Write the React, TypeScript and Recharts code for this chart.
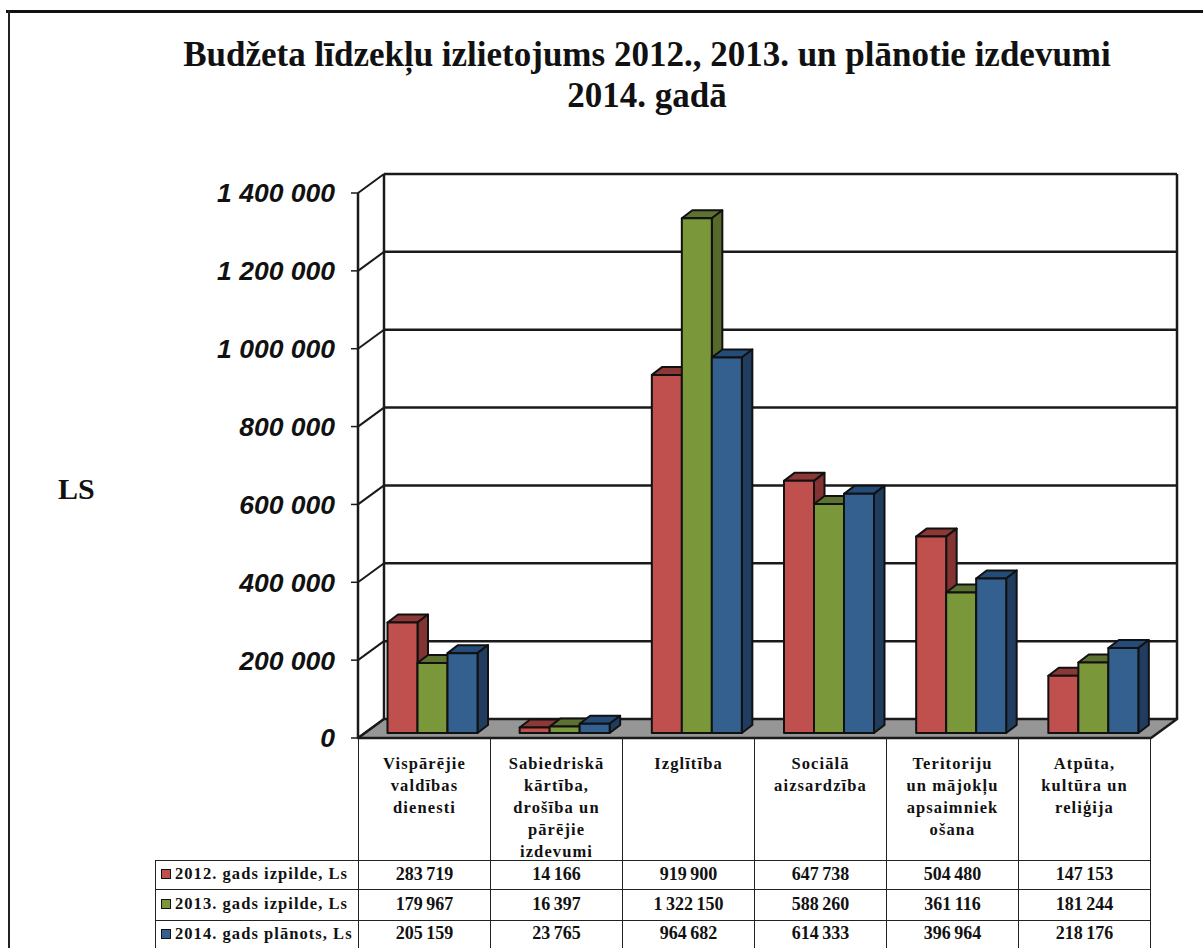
import { BarChart, Bar, XAxis, YAxis, CartesianGrid } from "recharts";

const categories = [
  "Vispārējie\nvaldības\ndienesti",
  "Sabiedriskā\nkārtība,\ndrošība un\npārējie\nizdevumi",
  "Izglītība",
  "Sociālā\naizsardzība",
  "Teritoriju\nun mājokļu\napsaimniek\nošana",
  "Atpūta,\nkultūra un\nreliģija",
];
const values2012 = [283719, 14166, 919900, 647738, 504480, 147153];
const values2013 = [179967, 16397, 1322150, 588260, 361116, 181244];
const values2014 = [205159, 23765, 964682, 614333, 396964, 218176];
const yTicks = [0, 200000, 400000, 600000, 800000, 1000000, 1200000, 1400000];

const series = [
  { key: "y2012", name: "2012. gads izpilde, Ls", values: values2012, fill: "#C0504D", top: "#8C3836", side: "#833331" },
  { key: "y2013", name: "2013. gads izpilde, Ls", values: values2013, fill: "#7A973A", top: "#5D7230", side: "#56692A" },
  { key: "y2014", name: "2014. gads plānots, Ls", values: values2014, fill: "#33608F", top: "#254C78", side: "#203D5F" },
];

const data = categories.map((name, i) => ({
  name,
  y2012: values2012[i],
  y2013: values2013[i],
  y2014: values2014[i],
}));

const fmt = (v: number) => v.toLocaleString("en-US").replace(/,/g, " ");

const LINE = "#1a1a1a";
const WALL_DX = 26;
const WALL_DY = -19;

// back wall, side wall and floor hang off the grid lines
function WallLine(props: any) {
  const { x1, x2, y1, y2, y, height } = props;
  const isTop = Math.abs(y1 - y) < 1;
  const isBottom = Math.abs(y1 - (y + height)) < 1;
  return (
    <g key={props.key}>
      {isBottom && (
        <polygon
          points={`${x1},${y1} ${x2},${y2} ${x2 + WALL_DX},${y2 + WALL_DY} ${x1 + WALL_DX},${y1 + WALL_DY}`}
          fill="#969696"
          stroke={LINE}
          strokeWidth={2.5}
          strokeLinejoin="round"
        />
      )}
      {isTop && (
        <>
          <line x1={x1 + WALL_DX} x2={x1 + WALL_DX} y1={y1 + WALL_DY} y2={y + height + WALL_DY} stroke={LINE} strokeWidth={2.5} />
          <line x1={x2 + WALL_DX} x2={x2 + WALL_DX} y1={y1 + WALL_DY} y2={y + height + WALL_DY} stroke={LINE} strokeWidth={2.5} />
        </>
      )}
      <line x1={x1} y1={y1} x2={x1 + WALL_DX} y2={y1 + WALL_DY} stroke={LINE} strokeWidth={2} />
      {!isBottom && (
        <line x1={x1 + WALL_DX} y1={y1 + WALL_DY} x2={x2 + WALL_DX} y2={y2 + WALL_DY} stroke={LINE} strokeWidth={2.5} />
      )}
    </g>
  );
}

function Bar3D(props: any) {
  const { x, y, width, height, fill, top, side } = props;
  const bx = x + 8.5;
  const by = y - 5;
  const dx = 10.5;
  const dy = -8;
  const r = bx + width;
  const b = by + height;
  return (
    <g stroke="#111" strokeWidth={2} strokeLinejoin="round">
      <polygon points={`${bx},${by} ${r},${by} ${r + dx},${by + dy} ${bx + dx},${by + dy}`} fill={top} />
      <polygon points={`${r},${by} ${r + dx},${by + dy} ${r + dx},${b + dy} ${r},${b}`} fill={side} />
      <rect x={bx} y={by} width={width} height={height} fill={fill} />
    </g>
  );
}

const tableFont = "'Liberation Serif', serif";
const cellBorder = "1.5px solid #222";
const rowHeights = [29, 31, 28];

export default function App() {
  return (
    <div style={{ position: "fixed", left: 0, top: 0, width: 1203, height: 948, overflow: "hidden", background: "#fff" }}>
      <div style={{ position: "absolute", left: 6, top: 10, right: 0, height: 3, background: "#111" }} />
      <div style={{ position: "absolute", left: 8, top: 10, bottom: 0, width: 1.5, background: "#222" }} />

      <div
        style={{
          position: "absolute",
          left: 100,
          width: 1094,
          top: 34,
          textAlign: "center",
          fontFamily: "'Liberation Serif', serif",
          fontWeight: "bold",
          fontSize: 35,
          lineHeight: "41px",
          color: "#111",
          whiteSpace: "pre-line",
        }}
      >
        {"Budžeta līdzekļu izlietojums 2012., 2013. un plānotie izdevumi\n2014. gadā"}
      </div>

      <div
        style={{
          position: "absolute",
          left: 58,
          top: 472,
          fontFamily: "'Liberation Serif', serif",
          fontWeight: "bold",
          fontSize: 30,
          color: "#111",
        }}
      >
        LS
      </div>

      <div style={{ position: "absolute", left: 0, top: 0 }}>
        <BarChart
          width={1203}
          height={948}
          data={data}
          margin={{ top: 193, right: 52, bottom: 210, left: 0 }}
          barGap={0}
          barCategoryGap={21}
        >
          <CartesianGrid vertical={false} horizontal={(p: any) => <WallLine {...p} />} />
          <XAxis dataKey="name" hide />
          <YAxis
            type="number"
            width={358}
            domain={[0, 1400000]}
            ticks={yTicks}
            interval={0}
            tickFormatter={fmt}
            tickSize={7}
            tickMargin={16}
            axisLine={{ stroke: LINE, strokeWidth: 2.5 }}
            tickLine={{ stroke: LINE, strokeWidth: 1.5 }}
            tick={{
              fill: "#111",
              fontFamily: "'Liberation Sans', sans-serif",
              fontWeight: "bold",
              fontStyle: "italic",
              fontSize: 26.5,
            }}
          />
          {series.map((s) => (
            <Bar
              key={s.key}
              dataKey={s.key}
              fill={s.fill}
              isAnimationActive={false}
              shape={(p: any) => <Bar3D {...p} fill={s.fill} top={s.top} side={s.side} />}
            />
          ))}
        </BarChart>
      </div>

      <table
        style={{
          position: "absolute",
          left: 155,
          top: 738,
          borderCollapse: "collapse",
          tableLayout: "fixed",
          width: 995,
          fontFamily: tableFont,
          fontWeight: "bold",
          color: "#111",
        }}
      >
        <colgroup>
          <col style={{ width: 203 }} />
          {categories.map((c) => (
            <col key={c} style={{ width: 132 }} />
          ))}
        </colgroup>
        <tbody>
          <tr style={{ height: 122 }}>
            <td style={{ padding: 0 }} />
            {categories.map((c) => (
              <td
                key={c}
                style={{
                  borderLeft: cellBorder,
                  borderRight: cellBorder,
                  borderBottom: cellBorder,
                  padding: "15px 0 0",
                  verticalAlign: "top",
                  textAlign: "center",
                  fontSize: 16.5,
                  letterSpacing: 1.1,
                  lineHeight: "22px",
                }}
              >
                <div style={{ height: 100, whiteSpace: "pre-line" }}>{c}</div>
              </td>
            ))}
          </tr>
          {series.map((s, r) => (
            <tr key={s.key} style={{ height: rowHeights[r] }}>
              <td style={{ border: cellBorder, padding: "0 0 1px 5px", fontSize: 16.5, letterSpacing: 1.05, whiteSpace: "nowrap" }}>
                <span
                  style={{
                    display: "inline-block",
                    width: 8,
                    height: 8,
                    marginRight: 4,
                    background: s.fill,
                    border: "1px solid #111",
                  }}
                />
                {s.name}
              </td>
              {s.values.map((v, i) => (
                <td key={i} style={{ border: cellBorder, padding: "0 0 1px", textAlign: "center", fontSize: 18, wordSpacing: -1 }}>
                  {fmt(v)}
                </td>
              ))}
            </tr>
          ))}
        </tbody>
      </table>
    </div>
  );
}
